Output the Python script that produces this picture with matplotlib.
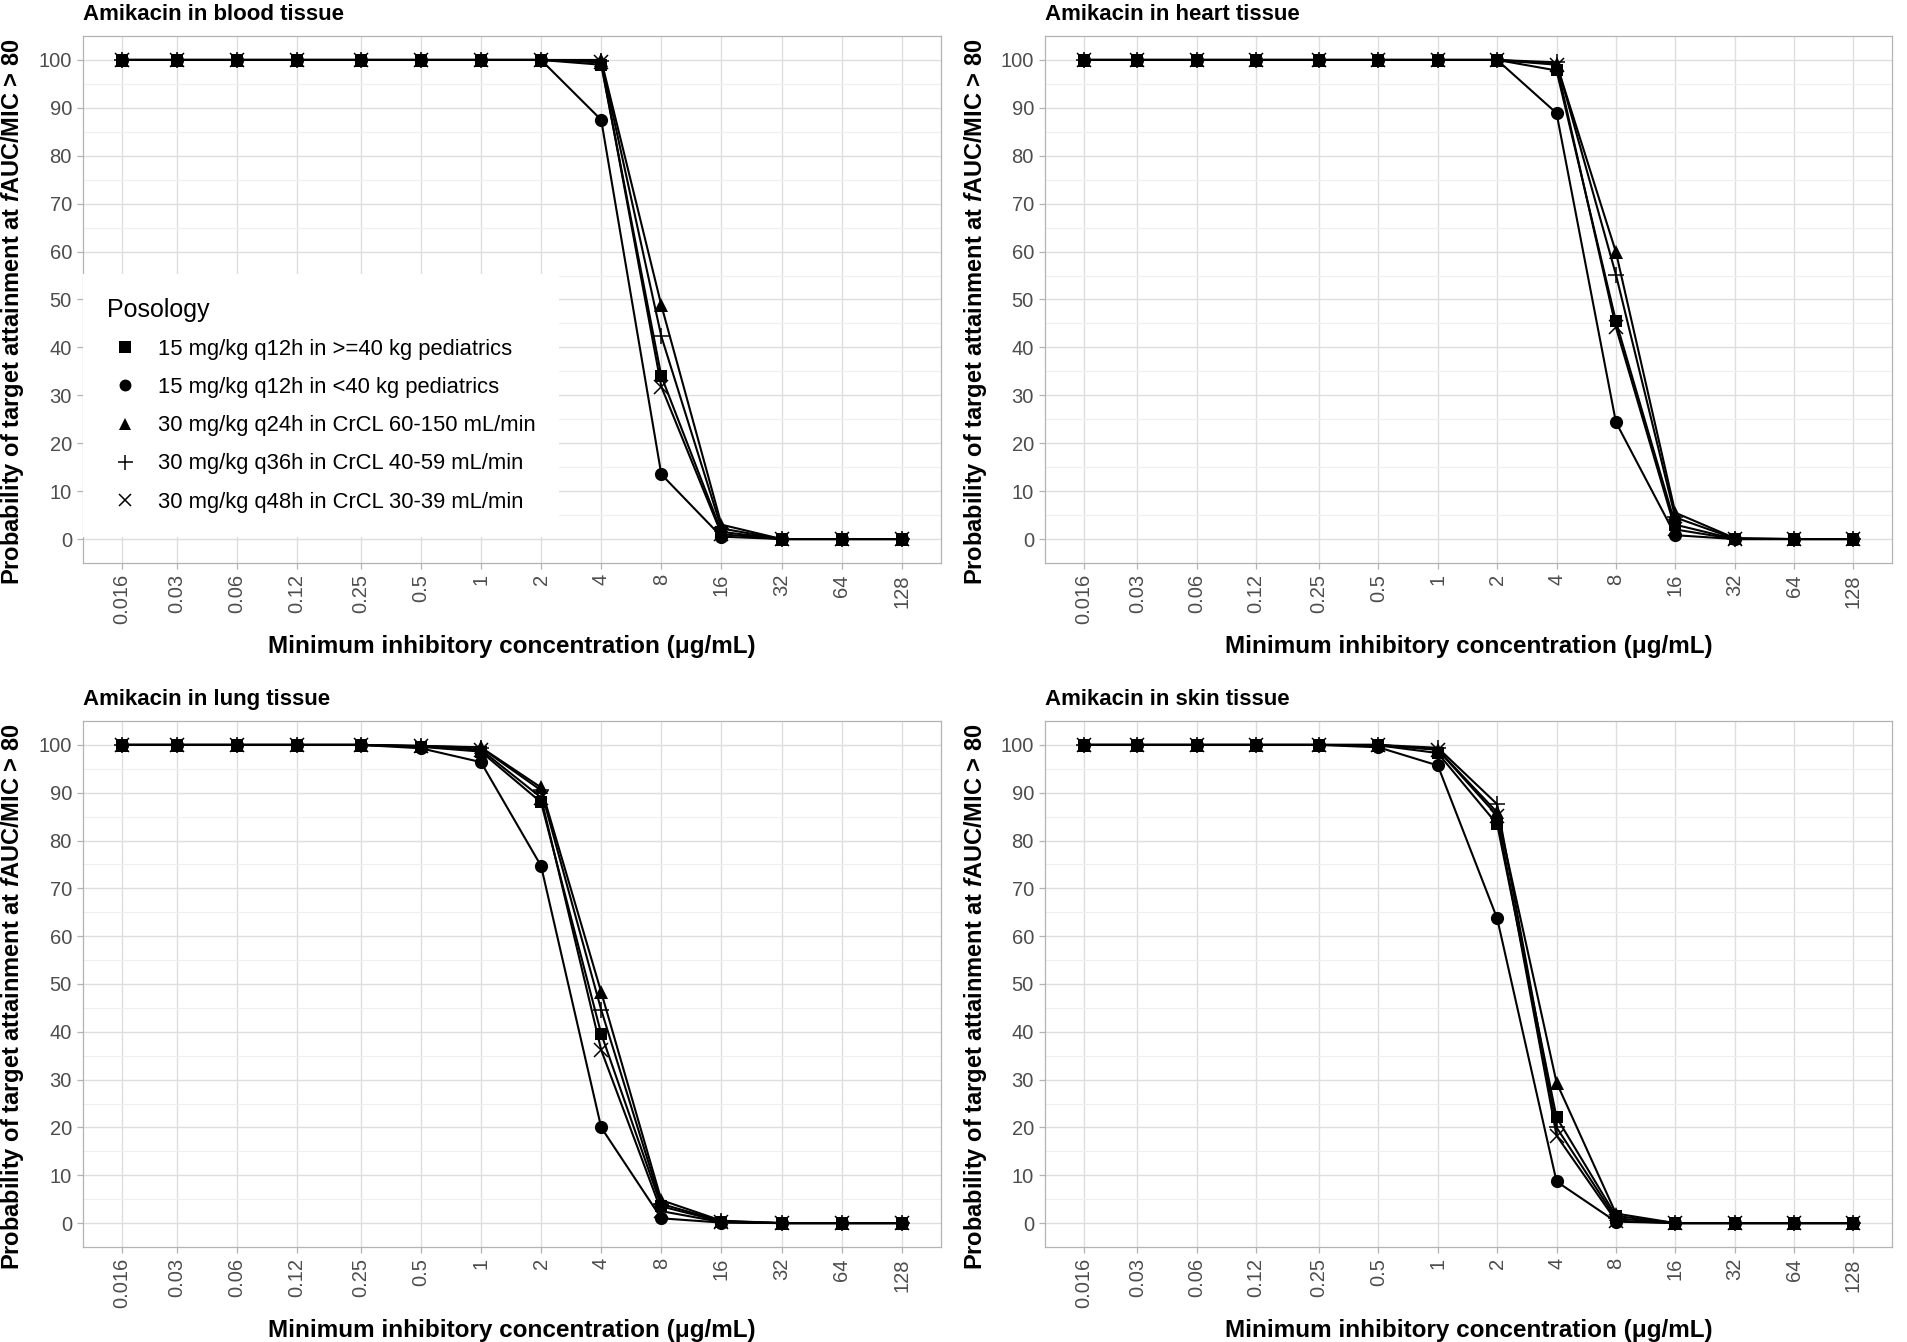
import matplotlib
matplotlib.use("Agg")
import matplotlib.pyplot as plt
import numpy as np
from matplotlib.ticker import FixedLocator, NullFormatter
from matplotlib.lines import Line2D

plt.rcParams['font.family'] = ['Liberation Sans', 'DejaVu Sans']
plt.rcParams['mathtext.fontset'] = 'custom'
plt.rcParams['mathtext.it'] = 'Liberation Sans:italic:bold'
plt.rcParams['mathtext.rm'] = 'Liberation Sans'

mic = [0.016, 0.03, 0.06, 0.12, 0.25, 0.5, 1, 2, 4, 8, 16, 32, 64, 128]
mic_labels = ["0.016", "0.03", "0.06", "0.12", "0.25", "0.5", "1", "2", "4", "8", "16", "32", "64", "128"]

posology = [
    "15 mg/kg q12h in >=40 kg pediatrics",
    "15 mg/kg q12h in <40 kg pediatrics",
    "30 mg/kg q24h in CrCL 60-150 mL/min",
    "30 mg/kg q36h in CrCL 40-59 mL/min",
    "30 mg/kg q48h in CrCL 30-39 mL/min",
]

tissues = ["blood", "heart", "lung", "skin"]

blood_sq   = [100, 100, 100, 100, 100, 100, 100, 100, 99.0, 34.0, 1.5, 0, 0, 0]
blood_ci   = [100, 100, 100, 100, 100, 100, 100, 100, 87.5, 13.5, 0.5, 0, 0, 0]
blood_tr   = [100, 100, 100, 100, 100, 100, 100, 100, 100, 48.8, 3.0, 0, 0, 0]
blood_pl   = [100, 100, 100, 100, 100, 100, 100, 100, 99.8, 42.3, 2.2, 0, 0, 0]
blood_x    = [100, 100, 100, 100, 100, 100, 100, 100, 99.5, 31.8, 1.0, 0, 0, 0]

heart_sq   = [100, 100, 100, 100, 100, 100, 100, 100, 97.8, 45.5, 3.0, 0, 0, 0]
heart_ci   = [100, 100, 100, 100, 100, 100, 100, 100, 88.9, 24.4, 0.8, 0, 0, 0]
heart_tr   = [100, 100, 100, 100, 100, 100, 100, 100, 99.2, 59.9, 5.5, 0.2, 0, 0]
heart_pl   = [100, 100, 100, 100, 100, 100, 100, 100, 99.5, 55.2, 4.5, 0.1, 0, 0]
heart_x    = [100, 100, 100, 100, 100, 100, 100, 100, 99.0, 44.2, 2.0, 0, 0, 0]

lung_sq    = [100, 100, 100, 100, 100, 99.6, 98.6, 88.0, 39.6, 3.5, 0.3, 0, 0, 0]
lung_ci    = [100, 100, 100, 100, 100, 99.3, 96.4, 74.7, 20.0, 1.0, 0.1, 0, 0, 0]
lung_tr    = [100, 100, 100, 100, 100, 99.8, 99.5, 91.1, 48.3, 4.8, 0.5, 0, 0, 0]
lung_pl    = [100, 100, 100, 100, 100, 99.8, 99.4, 90.5, 44.6, 4.0, 0.4, 0, 0, 0]
lung_x     = [100, 100, 100, 100, 100, 99.7, 99.0, 89.0, 36.2, 2.5, 0.2, 0, 0, 0]

skin_sq    = [100, 100, 100, 100, 100, 99.9, 98.3, 83.4, 22.1, 1.5, 0, 0, 0, 0]
skin_ci    = [100, 100, 100, 100, 100, 99.5, 95.7, 63.7, 8.7, 0.3, 0, 0, 0, 0]
skin_tr    = [100, 100, 100, 100, 100, 100, 99.0, 85.9, 29.4, 2.0, 0, 0, 0, 0]
skin_pl    = [100, 100, 100, 100, 100, 100, 99.4, 87.6, 20.0, 1.0, 0, 0, 0, 0]
skin_x     = [100, 100, 100, 100, 100, 100, 99.0, 85.2, 18.3, 0.5, 0, 0, 0, 0]

data = {
    "blood": [blood_sq, blood_ci, blood_tr, blood_pl, blood_x],
    "heart": [heart_sq, heart_ci, heart_tr, heart_pl, heart_x],
    "lung": [lung_sq, lung_ci, lung_tr, lung_pl, lung_x],
    "skin": [skin_sq, skin_ci, skin_tr, skin_pl, skin_x],
}

markers = ['s', 'o', '^', '+', 'x']
msizes = [9, 9.5, 10, 12, 9.5]
mews = [0, 0, 0, 1.1, 1.1]

W, H = 1908, 1342
fig = plt.figure(figsize=(W / 100, H / 100), dpi=100)

# axes rectangles in pixels: (left, top, right, bottom)
rects = [
    (83, 36, 941, 563),
    (1045, 36, 1892, 563),
    (83, 721, 941, 1247),
    (1045, 721, 1892, 1247),
]

xmin = 0.016 / 2 ** 0.65
xmax = 128 * 2 ** 0.65

tick_col = '#4D4D4D'
grid_major = '#DEDEDE'
grid_minor = '#EFEFEF'
border = '#B3B3B3'

for i, t in enumerate(tissues):
    l, tp, r, b = rects[i]
    ax = fig.add_axes([l / W, 1 - b / H, (r - l) / W, (b - tp) / H])
    ax.set_xscale('log', base=2)
    ax.set_xlim(xmin, xmax)
    ax.set_ylim(-5, 105)
    ax.xaxis.set_major_locator(FixedLocator(mic))
    ax.xaxis.set_minor_locator(FixedLocator([]))
    ax.set_xticklabels(mic_labels, rotation=90)
    ax.set_yticks(np.arange(0, 101, 10))
    ax.set_yticks(np.arange(5, 101, 10), minor=True)
    ax.yaxis.set_minor_formatter(NullFormatter())
    ax.grid(which='major', color=grid_major, linewidth=1.0, zorder=0)
    ax.grid(which='minor', axis='y', color=grid_minor, linewidth=0.8, zorder=0)
    ax.set_axisbelow(True)
    for s in ax.spines.values():
        s.set_color(border)
        s.set_linewidth(0.9)
    ax.tick_params(which='major', colors=border, labelcolor=tick_col, labelsize=14.5,
                   length=4, width=0.9, pad=4)
    ax.tick_params(which='minor', length=0)

    for k in range(5):
        ax.plot(mic, data[t][k], color='black', linewidth=1.5,
                marker=markers[k], markersize=msizes[k], markeredgewidth=mews[k],
                markeredgecolor='black', markerfacecolor='black', zorder=3)

    ax.set_title(f"Amikacin in {t} tissue", loc='left', fontsize=16, fontweight='bold',
                 pad=11.5)
    ax.set_xlabel("Minimum inhibitory concentration (\u03bcg/mL)", fontsize=17.5,
                  fontweight='bold', labelpad=8)
    ax.set_ylabel(r"Probability of target attainment at $\it{f}$AUC/MIC > 80",
                  fontsize=17, fontweight='bold')
    ax.yaxis.set_label_coords(-0.066, 0.476)

    if i == 0:
        lh = [Line2D([], [], color='black', linestyle='none', marker=markers[k],
                     markersize=msizes[k] * 0.9, markeredgewidth=mews[k])
              for k in range(5)]
        leg = ax.legend(lh, posology, title="Posology", loc='lower left',
                        bbox_to_anchor=(0.0, 0.05), frameon=True, fontsize=15.8,
                        title_fontsize=18, handlelength=1.6, handletextpad=0.7,
                        labelspacing=0.78, borderpad=1.1, borderaxespad=0.0)
        leg.get_frame().set_edgecolor('none')
        leg.get_frame().set_facecolor('white')
        leg.get_frame().set_alpha(1.0)
        leg.get_frame().set_boxstyle('square', pad=0.0)
        leg._legend_box.align = "left"

fig.savefig("out.png", dpi=100, facecolor='white')
